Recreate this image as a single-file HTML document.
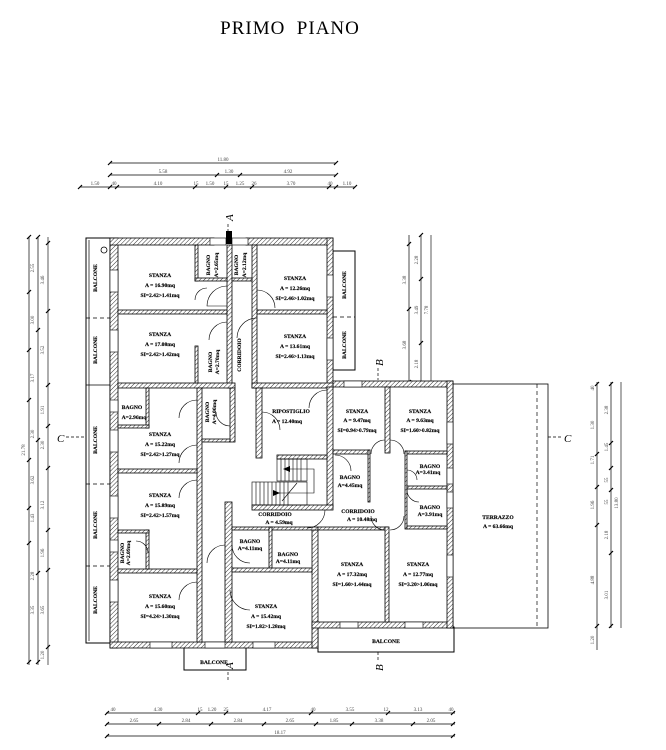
<!DOCTYPE html>
<html><head><meta charset="utf-8"><style>
html,body{margin:0;padding:0;background:#fff;}
svg{display:block;}
.w{fill:url(#h);stroke:#000;stroke-width:0.8;}
.t{font-family:"Liberation Serif",serif;font-weight:bold;font-size:5.6px;fill:#000;stroke:#000;stroke-width:0.15;}
.d{font-family:"Liberation Serif",serif;font-size:5px;fill:#444;}
.l{stroke:#000;stroke-width:0.7;fill:none;}
.g{stroke:#777;stroke-width:1.2;fill:none;}
.dr{stroke:#000;stroke-width:0.6;fill:none;}
</style></head><body>
<svg width="666" height="750" viewBox="0 0 666 750" xmlns="http://www.w3.org/2000/svg">
<defs>
<pattern id="h" width="3" height="3" patternUnits="userSpaceOnUse" patternTransform="rotate(45)">
<rect width="3" height="3" fill="#fff"/><line x1="0" y1="0" x2="0" y2="3" stroke="#000" stroke-width="0.8"/>
</pattern>
</defs>
<text x="290" y="34" text-anchor="middle" font-family="Liberation Serif,serif" font-size="19" letter-spacing="1">PRIMO&#160; PIANO</text>

<!-- top dims -->
<g class="l">
<line x1="110" y1="163" x2="336" y2="163"/>
<line x1="110" y1="175" x2="336" y2="175"/>
<line x1="80" y1="187" x2="355" y2="187"/>
</g>
<g class="d" text-anchor="middle">
<text x="223" y="161">11.80</text><text x="163" y="173">5.58</text><text x="229" y="173">1.30</text><text x="288" y="173">4.92</text>
<text x="95" y="185">1.50</text><text x="114" y="185">40</text><text x="158" y="185">4.10</text><text x="196" y="185">15</text><text x="210" y="185">1.50</text><text x="226" y="185">15</text><text x="240" y="185">1.25</text><text x="254" y="185">26</text><text x="291" y="185">3.70</text><text x="330" y="185">40</text><text x="347" y="185">1.10</text>
</g>
<g stroke="#000" stroke-width="1.2">
<line x1="108" y1="165" x2="112" y2="161"/><line x1="334" y1="165" x2="338" y2="161"/>
<line x1="108" y1="177" x2="112" y2="173"/><line x1="215" y1="177" x2="219" y2="173"/><line x1="238" y1="177" x2="242" y2="173"/><line x1="334" y1="177" x2="338" y2="173"/>
<line x1="78" y1="189" x2="82" y2="185"/><line x1="108" y1="189" x2="112" y2="185"/><line x1="115" y1="189" x2="119" y2="185"/><line x1="193" y1="189" x2="197" y2="185"/><line x1="224" y1="189" x2="228" y2="185"/><line x1="250" y1="189" x2="254" y2="185"/><line x1="327" y1="189" x2="331" y2="185"/><line x1="334" y1="189" x2="338" y2="185"/><line x1="353" y1="189" x2="357" y2="185"/>
</g>

<!-- bottom dims -->
<g class="l">
<line x1="106" y1="713" x2="455" y2="713"/>
<line x1="106" y1="724" x2="455" y2="724"/>
<line x1="106" y1="736" x2="455" y2="736"/>
</g>
<g class="d" text-anchor="middle">
<text x="113" y="711">40</text><text x="158" y="711">4.30</text><text x="200" y="711">15</text><text x="212" y="711">1.20</text><text x="226" y="711">25</text><text x="267" y="711">4.17</text><text x="313" y="711">40</text><text x="350" y="711">3.55</text><text x="386" y="711">12</text><text x="418" y="711">3.13</text><text x="451" y="711">40</text>
<text x="134" y="722">2.65</text><text x="186" y="722">2.84</text><text x="238" y="722">2.84</text><text x="290" y="722">2.65</text><text x="334" y="722">1.85</text><text x="379" y="722">3.38</text><text x="431" y="722">2.05</text>
<text x="280" y="734">18.17</text>
</g>
<g stroke="#000" stroke-width="1.2">
<line x1="105" y1="715" x2="109" y2="711"/><line x1="196" y1="715" x2="200" y2="711"/><line x1="224" y1="715" x2="228" y2="711"/><line x1="309" y1="715" x2="313" y2="711"/><line x1="386" y1="715" x2="390" y2="711"/><line x1="451" y1="715" x2="455" y2="711"/>
<line x1="105" y1="726" x2="109" y2="722"/><line x1="157" y1="726" x2="161" y2="722"/><line x1="209" y1="726" x2="213" y2="722"/><line x1="262" y1="726" x2="266" y2="722"/><line x1="314" y1="726" x2="318" y2="722"/><line x1="350" y1="726" x2="354" y2="722"/><line x1="411" y1="726" x2="415" y2="722"/><line x1="451" y1="726" x2="455" y2="722"/>
<line x1="105" y1="738" x2="109" y2="734"/><line x1="451" y1="738" x2="455" y2="734"/>
</g>

<!-- left dims -->
<g class="l"><line x1="29" y1="237" x2="29" y2="665"/><line x1="38" y1="237" x2="38" y2="665"/></g>
<line class="g" x1="48" y1="237" x2="48" y2="665"/>
<g class="d" text-anchor="middle">
<text transform="translate(34,268) rotate(-90)">2.55</text><text transform="translate(34,320) rotate(-90)">3.00</text><text transform="translate(34,378) rotate(-90)">3.17</text><text transform="translate(34,434) rotate(-90)">2.30</text><text transform="translate(34,480) rotate(-90)">3.62</text><text transform="translate(34,518) rotate(-90)">1.43</text><text transform="translate(34,576) rotate(-90)">2.28</text><text transform="translate(34,610) rotate(-90)">3.35</text><text transform="translate(25,450) rotate(-90)">21.78</text>
<text transform="translate(44,280) rotate(-90)">3.46</text><text transform="translate(44,350) rotate(-90)">3.52</text><text transform="translate(44,410) rotate(-90)">1.91</text><text transform="translate(44,445) rotate(-90)">2.30</text><text transform="translate(44,505) rotate(-90)">3.12</text><text transform="translate(44,553) rotate(-90)">1.96</text><text transform="translate(44,610) rotate(-90)">3.65</text><text transform="translate(44,655) rotate(-90)">1.20</text>
</g>
<g stroke="#000" stroke-width="1.2">
<line x1="27" y1="239" x2="31" y2="235"/><line x1="27" y1="294" x2="31" y2="290"/><line x1="27" y1="352" x2="31" y2="348"/><line x1="27" y1="402" x2="31" y2="398"/><line x1="27" y1="462" x2="31" y2="458"/><line x1="27" y1="510" x2="31" y2="506"/><line x1="27" y1="545" x2="31" y2="541"/><line x1="27" y1="664" x2="31" y2="660"/>
<line x1="36" y1="239" x2="40" y2="235"/><line x1="36" y1="332" x2="40" y2="328"/><line x1="36" y1="442" x2="40" y2="438"/><line x1="36" y1="575" x2="40" y2="571"/><line x1="36" y1="664" x2="40" y2="660"/>
<line x1="46" y1="245" x2="50" y2="241"/><line x1="46" y1="313" x2="50" y2="309"/><line x1="46" y1="387" x2="50" y2="383"/><line x1="46" y1="428" x2="50" y2="424"/><line x1="46" y1="470" x2="50" y2="466"/><line x1="46" y1="532" x2="50" y2="528"/><line x1="46" y1="572" x2="50" y2="568"/><line x1="46" y1="649" x2="50" y2="645"/>
</g>

<!-- upper right dims -->
<g class="l"><line x1="409" y1="235" x2="409" y2="384"/><line x1="421" y1="235" x2="421" y2="384"/></g>
<line class="g" x1="431" y1="235" x2="431" y2="384"/>
<g class="d" text-anchor="middle">
<text transform="translate(406,280) rotate(-90)">3.38</text><text transform="translate(406,345) rotate(-90)">3.68</text>
<text transform="translate(418,260) rotate(-90)">2.28</text><text transform="translate(418,310) rotate(-90)">3.49</text><text transform="translate(418,364) rotate(-90)">2.18</text>
<text transform="translate(428,310) rotate(-90)">7.78</text>
</g>
<g stroke="#000" stroke-width="1.2">
<line x1="407" y1="246" x2="411" y2="242"/><line x1="407" y1="311" x2="411" y2="307"/><line x1="407" y1="384" x2="411" y2="380"/>
<line x1="419" y1="237" x2="423" y2="233"/><line x1="419" y1="281" x2="423" y2="277"/><line x1="419" y1="345" x2="423" y2="341"/><line x1="419" y1="386" x2="423" y2="382"/>
</g>

<!-- right dims -->
<g class="l"><line x1="597" y1="382" x2="597" y2="650"/><line x1="611" y1="382" x2="611" y2="628"/></g>
<line class="g" x1="621" y1="382" x2="621" y2="628"/>
<g class="d" text-anchor="middle">
<text transform="translate(594,388) rotate(-90)">40</text><text transform="translate(594,425) rotate(-90)">1.30</text><text transform="translate(594,460) rotate(-90)">1.71</text><text transform="translate(594,505) rotate(-90)">1.96</text><text transform="translate(594,580) rotate(-90)">4.88</text><text transform="translate(594,640) rotate(-90)">1.20</text>
<text transform="translate(608,410) rotate(-90)">2.38</text><text transform="translate(608,447) rotate(-90)">1.45</text><text transform="translate(608,480) rotate(-90)">55</text><text transform="translate(608,502) rotate(-90)">55</text><text transform="translate(608,535) rotate(-90)">2.18</text><text transform="translate(608,595) rotate(-90)">3.01</text>
<text transform="translate(618,503) rotate(-90)">13.80</text>
</g>
<g stroke="#000" stroke-width="1.2">
<line x1="595" y1="386" x2="599" y2="382"/><line x1="595" y1="456" x2="599" y2="452"/><line x1="595" y1="489" x2="599" y2="485"/><line x1="595" y1="527" x2="599" y2="523"/><line x1="595" y1="628" x2="599" y2="624"/>
<line x1="609" y1="386" x2="613" y2="382"/><line x1="609" y1="445" x2="613" y2="441"/><line x1="609" y1="470" x2="613" y2="466"/><line x1="609" y1="492" x2="613" y2="488"/><line x1="609" y1="555" x2="613" y2="551"/><line x1="609" y1="628" x2="613" y2="624"/>
</g>

<!-- balconies -->
<rect x="86" y="238" width="24" height="405" fill="none" stroke="#000" stroke-width="1"/>
<line x1="89" y1="240" x2="89" y2="641" stroke="#888" stroke-width="1.5"/>
<g stroke="#000" stroke-width="0.8" stroke-dasharray="4,3">
<line x1="86" y1="318" x2="110" y2="318"/><line x1="86" y1="484" x2="110" y2="484"/><line x1="86" y1="566" x2="110" y2="566"/>
<line x1="333" y1="317" x2="355" y2="317"/>
</g>
<line x1="86" y1="385" x2="110" y2="385" stroke="#000" stroke-width="0.8"/>
<circle cx="104" cy="250" r="3" fill="none" stroke="#000" stroke-width="0.8"/>
<rect x="333" y="251" width="22" height="119" fill="none" stroke="#000" stroke-width="1"/>
<rect x="184" y="647" width="62" height="23" fill="none" stroke="#000" stroke-width="1"/>
<rect x="318" y="627" width="136" height="25" fill="none" stroke="#000" stroke-width="1"/>
<!-- terrazzo -->
<rect x="453" y="384" width="95" height="244" fill="none" stroke="#000" stroke-width="0.8"/>
<line x1="537" y1="384" x2="537" y2="628" stroke="#000" stroke-width="0.7" stroke-dasharray="4,3"/>

<!-- outer walls -->
<g class="w">
<rect x="110" y="238" width="8" height="410"/>
<rect x="110" y="238" width="104" height="7"/>
<rect x="246" y="238" width="87" height="7"/>
<rect x="327" y="238" width="6" height="150"/>
<rect x="110" y="642" width="208" height="6"/>
<rect x="312" y="530" width="6" height="118"/>
<rect x="312" y="622" width="141" height="6"/>
<rect x="333" y="381" width="120" height="6"/>
<rect x="447" y="381" width="6" height="247"/>
<rect x="227" y="245" width="5" height="143"/>
<rect x="252" y="245" width="5" height="143"/>
<rect x="118" y="310" width="109" height="4"/>
<rect x="257" y="310" width="70" height="4"/>
<rect x="118" y="383" width="117" height="5"/>
<rect x="252" y="383" width="81" height="5"/>
<rect x="195" y="245" width="3" height="36"/>
<rect x="195" y="278" width="32" height="3"/>
<rect x="232" y="278" width="20" height="3"/>
<rect x="195" y="346" width="3" height="37"/>
<rect x="197" y="388" width="5" height="254"/>
<rect x="146" y="388" width="3" height="40"/>
<rect x="118" y="425" width="31" height="3"/>
<rect x="230" y="388" width="5" height="54"/>
<rect x="202" y="439" width="28" height="3"/>
<rect x="118" y="469" width="79" height="4"/>
<rect x="118" y="569" width="79" height="4"/>
<rect x="146" y="530" width="3" height="39"/>
<rect x="118" y="530" width="31" height="3"/>
<rect x="256" y="388" width="6" height="70"/>
<rect x="327" y="387" width="6" height="120"/>
<rect x="277" y="455" width="50" height="4"/>
<rect x="252" y="505" width="81" height="5"/>
<rect x="225" y="502" width="7" height="140"/>
<rect x="232" y="527" width="86" height="3"/>
<rect x="269" y="527" width="3" height="41"/>
<rect x="232" y="568" width="80" height="4"/>
<rect x="385" y="387" width="5" height="66"/>
<rect x="333" y="450" width="37" height="4"/>
<rect x="368" y="450" width="2" height="52"/>
<rect x="405" y="451" width="42" height="3"/>
<rect x="405" y="451" width="2" height="78"/>
<rect x="407" y="486" width="40" height="3"/>
<rect x="407" y="526" width="40" height="3"/>
<rect x="318" y="527" width="70" height="3"/>
<rect x="385" y="527" width="4" height="95"/>
</g>
<rect x="226" y="231" width="6" height="13" fill="#000"/>

<g fill="#fff" stroke="#000" stroke-width="0.6">
<rect x="110" y="270" width="8" height="22"/><rect x="110" y="330" width="8" height="22"/><rect x="110" y="400" width="8" height="12"/><rect x="110" y="430" width="8" height="22"/><rect x="110" y="496" width="8" height="22"/><rect x="110" y="540" width="8" height="12"/><rect x="110" y="580" width="8" height="22"/>
<rect x="327" y="275" width="6" height="22"/><rect x="327" y="338" width="6" height="22"/>
<rect x="447" y="422" width="6" height="22"/><rect x="447" y="468" width="6" height="16"/><rect x="447" y="492" width="6" height="16"/><rect x="447" y="555" width="6" height="22"/>
<rect x="150" y="642" width="22" height="6"/><rect x="205" y="642" width="20" height="6"/><rect x="253" y="642" width="22" height="6"/>
<rect x="340" y="622" width="18" height="6"/><rect x="405" y="622" width="18" height="6"/><rect x="344" y="381" width="18" height="6"/>
<rect x="210" y="238" width="16" height="7"/><rect x="232" y="238" width="16" height="7"/>
</g>

<g stroke="#000" stroke-width="0.6">
<rect x="277" y="459" width="30" height="22" fill="none"/>
<rect x="252" y="482" width="55" height="23" fill="none"/>
<line x1="281" y1="459" x2="281" y2="481"/><line x1="285" y1="459" x2="285" y2="481"/><line x1="289" y1="459" x2="289" y2="481"/><line x1="293" y1="459" x2="293" y2="481"/><line x1="297" y1="459" x2="297" y2="481"/><line x1="301" y1="459" x2="301" y2="481"/>
<line x1="256" y1="482" x2="256" y2="505"/><line x1="260" y1="482" x2="260" y2="505"/><line x1="264" y1="482" x2="264" y2="505"/><line x1="268" y1="482" x2="268" y2="505"/><line x1="272" y1="482" x2="272" y2="505"/><line x1="276" y1="482" x2="276" y2="505"/><line x1="280" y1="482" x2="280" y2="505"/><line x1="284" y1="482" x2="284" y2="505"/><line x1="288" y1="482" x2="288" y2="505"/>
<polyline points="287,469 314,469 314,493 275,493" fill="none"/>
<line x1="282" y1="501" x2="297" y2="483"/>
</g>
<polygon points="283,469 290,466 290,472" fill="#000"/><polygon points="280,493 273,490 273,496" fill="#000"/>

<g class="dr">
<path d="M227,286 A20,20 0 0 0 207,306 L227,306"/>
<path d="M257,290 A18,18 0 0 1 275,308"/><path d="M257,318 A20,20 0 0 0 237,338"/>
<path d="M227,322 A18,18 0 0 0 209,340"/>
<path d="M197,400 A18,18 0 0 0 179,418"/>
<path d="M197,445 A18,18 0 0 0 179,463"/><path d="M197,480 A18,18 0 0 0 179,498"/>
<path d="M197,582 A18,18 0 0 0 179,600"/><path d="M225,545 A18,18 0 0 0 207,563"/>
<path d="M230,590 A20,20 0 0 0 250,610"/>
<path d="M262,412 A18,18 0 0 1 280,430"/>
<path d="M327,390 A18,18 0 0 0 309,408"/>
<path d="M325,510 A18,18 0 0 1 307,528"/>
<path d="M232,545 A18,18 0 0 0 250,563"/>
<path d="M335,455 A16,16 0 0 1 351,471"/>
<path d="M385,440 A14,14 0 0 0 371,454"/><path d="M390,440 A14,14 0 0 1 404,454"/>
<path d="M407,470 A10,10 0 0 1 417,480"/><path d="M407,490 A12,12 0 0 0 419,502"/>
<path d="M385,530 A14,14 0 0 1 371,516"/><path d="M390,530 A14,14 0 0 0 404,516"/>
<path d="M148,553 A12,12 0 0 0 136,541"/>
<path d="M195,300 A12,12 0 0 1 207,288"/>
<path d="M216,412 A14,14 0 0 0 230,426"/>
</g>

<g font-family="Liberation Serif,serif" font-style="italic" font-size="11">
<text x="222" y="220" transform="rotate(-90 228 215)">A</text>
<text x="222" y="668" transform="rotate(-90 228 663)">A</text>
<text x="372" y="365" transform="rotate(-90 378 360)">B</text>
<text x="372" y="670" transform="rotate(-90 378 665)">B</text>
<text x="57" y="442">C</text><text x="564" y="442">C</text>
</g>
<g stroke="#000" stroke-width="0.7" stroke-dasharray="3,2">
<line x1="228" y1="224" x2="228" y2="231"/><line x1="228" y1="672" x2="228" y2="680"/>
<line x1="378" y1="368" x2="378" y2="380"/><line x1="378" y1="652" x2="378" y2="660"/>
<line x1="66" y1="437" x2="86" y2="437"/><line x1="548" y1="437" x2="562" y2="437"/>
</g>

<g class="t" text-anchor="middle">
<text x="160" y="277">STANZA</text><text x="160" y="287">A  =  16.90mq</text><text x="160" y="297">SI=2.42&gt;1.41mq</text>
<text x="160" y="336">STANZA</text><text x="160" y="346">A  =  17.08mq</text><text x="160" y="356">SI=2.42&gt;1.42mq</text>
<text x="295" y="280">STANZA</text><text x="295" y="290">A  =  12.26mq</text><text x="295" y="300">SI=2.46&gt;1.02mq</text>
<text x="295" y="338">STANZA</text><text x="295" y="348">A  =  13.61mq</text><text x="295" y="358">SI=2.46&gt;1.13mq</text>
<text x="160" y="436">STANZA</text><text x="160" y="446">A  =  15.22mq</text><text x="160" y="456">SI=2.42&gt;1.27mq</text>
<text x="160" y="497">STANZA</text><text x="160" y="507">A  =  15.89mq</text><text x="160" y="517">SI=2.42&gt;1.57mq</text>
<text x="160" y="598">STANZA</text><text x="160" y="608">A  =  15.60mq</text><text x="160" y="618">SI=4.24&gt;1.30mq</text>
<text x="266" y="608">STANZA</text><text x="266" y="618">A  =  15.42mq</text><text x="266" y="628">SI=1.82&gt;1.28mq</text>
<text x="291" y="413">RIPOSTIGLIO</text><text x="287" y="423">A  =  12.40mq</text>
<text x="357" y="413">STANZA</text><text x="357" y="422">A  =  9.47mq</text><text x="357" y="432">SI=0.94&gt;0.79mq</text>
<text x="420" y="413">STANZA</text><text x="420" y="422">A  =  9.63mq</text><text x="420" y="432">SI=1.60&gt;0.82mq</text>
<text x="350" y="479">BAGNO</text><text x="350" y="487">A=4.45mq</text>
<text x="430" y="468">BAGNO</text><text x="428" y="474">A=3.41mq</text>
<text x="430" y="509">BAGNO</text><text x="430" y="516">A=3.91mq</text>
<text x="358" y="513">CORRIDOIO</text><text x="362" y="521">A  =  10.48mq</text>
<text x="275" y="516">CORRIDOIO</text><text x="279" y="524">A  =  4.59mq</text>
<text x="250" y="543">BAGNO</text><text x="250" y="550">A=4.11mq</text>
<text x="288" y="556">BAGNO</text><text x="288" y="563">A=4.11mq</text>
<text x="352" y="566">STANZA</text><text x="352" y="576">A  =  17.32mq</text><text x="352" y="586">SI=1.60&gt;1.44mq</text>
<text x="418" y="566">STANZA</text><text x="418" y="576">A  =  12.77mq</text><text x="418" y="586">SI=3.20&gt;1.06mq</text>
<text x="132" y="409">BAGNO</text><text x="134" y="419">A=2.96mq</text>
<text x="498" y="519">TERRAZZO</text><text x="498" y="528">A  =  63.66mq</text>
<text x="214" y="664">BALCONE</text>
<text x="386" y="643">BALCONE</text>
</g>
<g class="t" text-anchor="middle">
<text transform="translate(97,278) rotate(-90)">BALCONE</text>
<text transform="translate(97,350) rotate(-90)">BALCONE</text>
<text transform="translate(97,440) rotate(-90)">BALCONE</text>
<text transform="translate(97,525) rotate(-90)">BALCONE</text>
<text transform="translate(97,600) rotate(-90)">BALCONE</text>
<text transform="translate(346,285) rotate(-90)">BALCONE</text>
<text transform="translate(346,345) rotate(-90)">BALCONE</text>
<text transform="translate(210,265) rotate(-90)">BAGNO</text><text transform="translate(218,265) rotate(-90)">A=2.65mq</text>
<text transform="translate(238,265) rotate(-90)">BAGNO</text><text transform="translate(246,265) rotate(-90)">A=2.12mq</text>
<text transform="translate(212,362) rotate(-90)">BAGNO</text><text transform="translate(219,362) rotate(-90)">A=2.70mq</text>
<text transform="translate(241,355) rotate(-90)">CORRIDOIO</text>
<text transform="translate(209,412) rotate(-90)">BAGNO</text><text transform="translate(216,412) rotate(-90)">A=4.06mq</text>
<text transform="translate(124,553) rotate(-90)">BAGNO</text><text transform="translate(130,553) rotate(-90)">A=2.09mq</text>
</g>
</svg>
</body></html>
